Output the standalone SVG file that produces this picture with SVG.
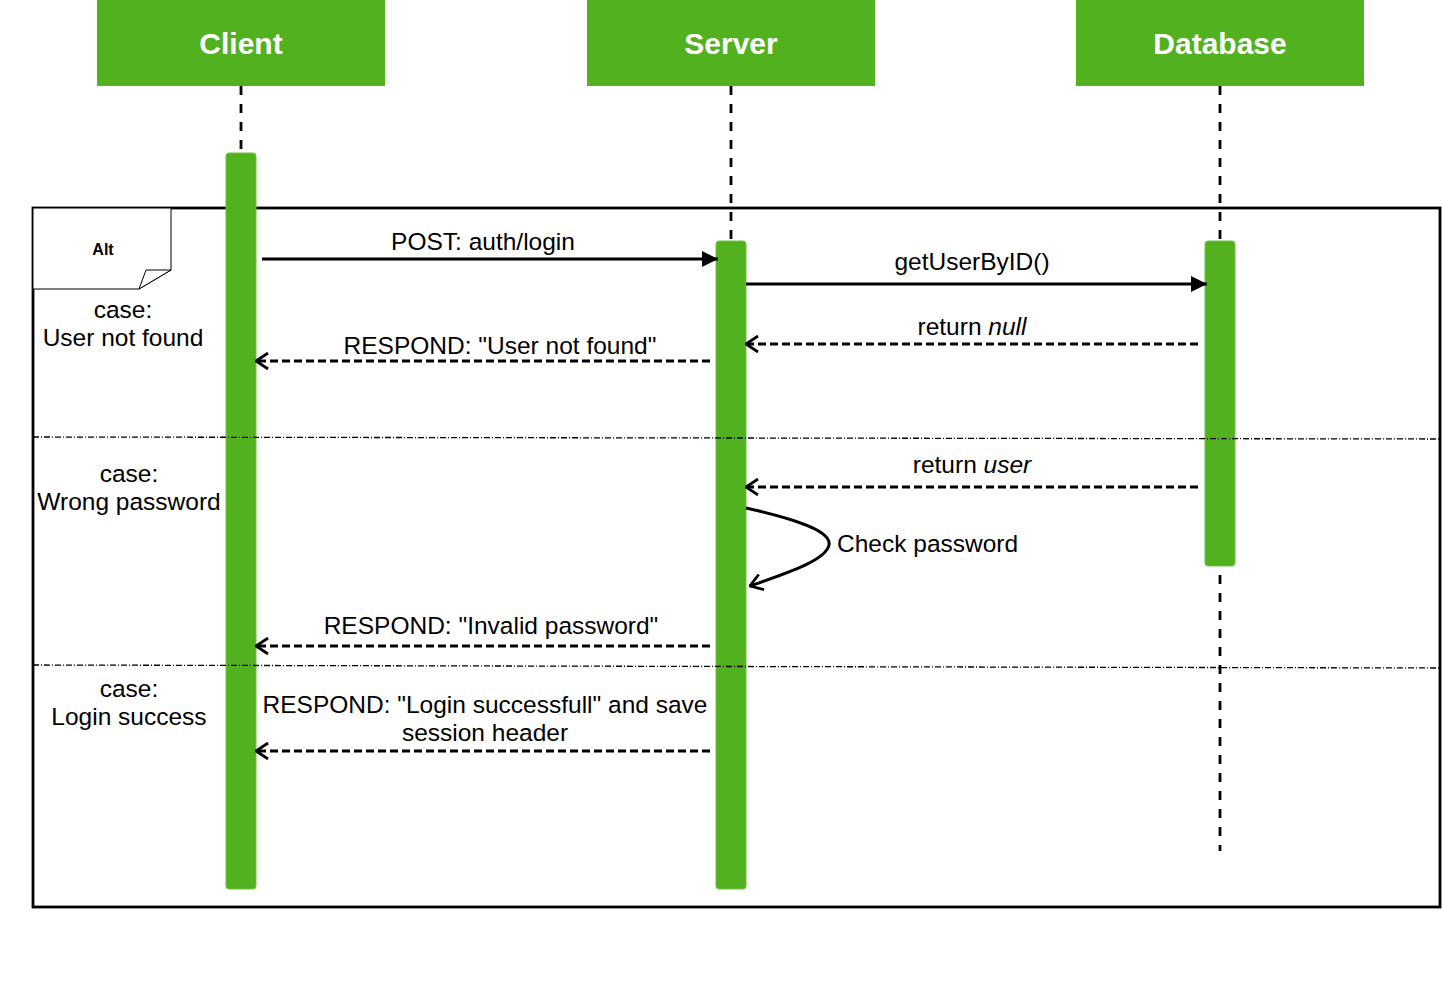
<svg xmlns="http://www.w3.org/2000/svg" width="1442" height="985" viewBox="0 0 1442 985">
<style>
.hdr{fill:#52B11E}
.hdrt{font-family:"Liberation Sans",Arial,sans-serif;font-size:30px;font-weight:bold;fill:#ffffff;text-anchor:middle}
.life{stroke:#000;stroke-width:2.8;stroke-dasharray:9 9;fill:none}
.act{fill:#52B11E;stroke:#6DC23F;stroke-width:1}
.lbl{font-family:"Liberation Sans",Arial,sans-serif;font-size:24.5px;fill:#000;text-anchor:middle}
.msg{stroke:#000;stroke-width:3;fill:none}
.ret{stroke:#000;stroke-width:2.8;stroke-dasharray:8 4;fill:none}
.div{stroke:#000;stroke-width:1.3;stroke-dasharray:6 2 1 2;fill:none}
</style>
<defs>
<marker id="filled" viewBox="0 0 16 16" refX="16" refY="8" markerWidth="16" markerHeight="16" markerUnits="userSpaceOnUse" orient="auto">
<path d="M0,0 L16,8 L0,16 Z" fill="#000"/>
</marker>
<marker id="open" viewBox="0 0 14 18" refX="13" refY="9" markerWidth="14" markerHeight="18" markerUnits="userSpaceOnUse" orient="auto">
<path d="M1,1 L13,9 L1,17" fill="none" stroke="#000" stroke-width="2.8"/>
</marker>
</defs>
<rect width="1442" height="985" fill="#ffffff"/>

<g id="lifelines">
<line class="life" x1="241" y1="86" x2="241" y2="153"/>
<line class="life" x1="731" y1="86" x2="731" y2="241"/>
<line class="life" x1="1220" y1="86" x2="1220" y2="241"/>
<line class="life" x1="1220" y1="575" x2="1220" y2="851"/>
</g>

<g id="alt-frame">
<rect x="33" y="208" width="1407" height="699" fill="none" stroke="#000" stroke-width="2.8"/>
</g>

<g id="client">
<rect class="hdr" x="97" y="0" width="288" height="86"/>
<text class="hdrt" x="241" y="54">Client</text>
<rect class="act" x="226" y="153" width="30" height="736" rx="3"/>
</g>
<g id="server">
<rect class="hdr" x="587" y="0" width="288" height="86"/>
<text class="hdrt" x="731" y="54">Server</text>
<rect class="act" x="716" y="241" width="30" height="648" rx="3"/>
</g>
<g id="database">
<rect class="hdr" x="1076" y="0" width="288" height="86"/>
<text class="hdrt" x="1220" y="54">Database</text>
<rect class="act" x="1205" y="241" width="30" height="325" rx="3"/>
</g>

<g id="alt-label">
<path d="M33,208 L171,208 L171,270 L139,289 L33,289 Z" fill="#ffffff" stroke="#000" stroke-width="1"/>
<path d="M139,289 L146,270 L171,270 Z" fill="#ffffff" stroke="#000" stroke-width="1"/>
<text x="103" y="255" font-family="'Liberation Sans',Arial,sans-serif" font-size="16" font-weight="bold" text-anchor="middle">Alt</text>
</g>

<g id="dividers">
<line class="div" x1="33" y1="437" x2="1440" y2="439"/>
<line class="div" x1="33" y1="665" x2="1440" y2="668"/>
</g>

<g id="case-labels">
<text class="lbl" x="123" y="318">case:</text>
<text class="lbl" x="123" y="346">User not found</text>
<text class="lbl" x="129" y="482">case:</text>
<text class="lbl" x="129" y="510">Wrong password</text>
<text class="lbl" x="129" y="697">case:</text>
<text class="lbl" x="129" y="725">Login success</text>
</g>

<g id="connectors">
<line class="msg" x1="262" y1="259" x2="718" y2="259" marker-end="url(#filled)"/>
<line class="msg" x1="746" y1="284" x2="1207" y2="284" marker-end="url(#filled)"/>
<line class="ret" x1="1198" y1="344" x2="746" y2="344" marker-end="url(#open)"/>
<line class="ret" x1="710" y1="361" x2="256" y2="361" marker-end="url(#open)"/>
<line class="ret" x1="1198" y1="487" x2="746" y2="487" marker-end="url(#open)"/>
<path class="msg" d="M746,508 C790,518 832,530 829,545 C826,560 790,572 750,586" marker-end="url(#open)"/>
<line class="ret" x1="710" y1="646" x2="256" y2="646" marker-end="url(#open)"/>
<line class="ret" x1="710" y1="751" x2="256" y2="751" marker-end="url(#open)"/>
</g>

<g id="message-labels">
<text class="lbl" x="483" y="250">POST: auth/login</text>
<text class="lbl" x="972" y="270">getUserByID()</text>
<text class="lbl" x="972" y="335">return <tspan font-style="italic">null</tspan></text>
<text class="lbl" x="500" y="354">RESPOND: "User not found"</text>
<text class="lbl" x="972" y="473">return <tspan font-style="italic">user</tspan></text>
<text x="837" y="552" font-family="'Liberation Sans',Arial,sans-serif" font-size="24.5">Check password</text>
<text class="lbl" x="491" y="634">RESPOND: "Invalid password"</text>
<text class="lbl" x="485" y="713">RESPOND: "Login successfull" and save</text>
<text class="lbl" x="485" y="741">session header</text>
</g>
</svg>
